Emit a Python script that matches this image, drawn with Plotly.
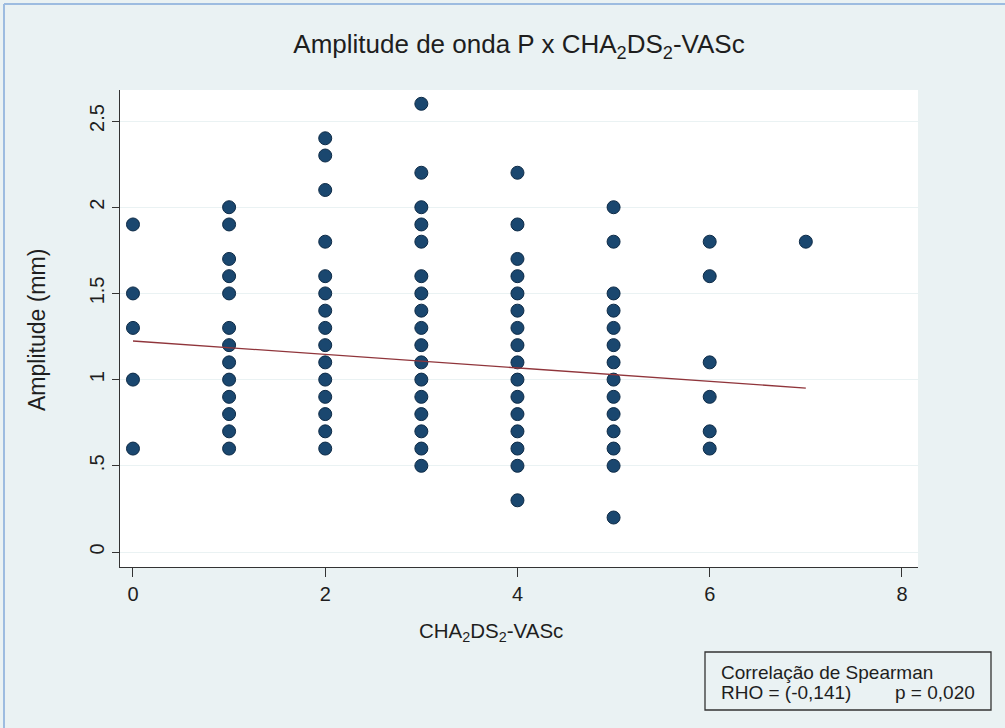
import plotly.graph_objects as go

# ---- data ----
score_0 = [1.9, 1.5, 1.3, 1.0, 0.6]
score_1 = [2.0, 1.9, 1.7, 1.6, 1.5, 1.3, 1.2, 1.1, 1.0, 0.9, 0.8, 0.7, 0.6]
score_2 = [2.4, 2.3, 2.1, 1.8, 1.6, 1.5, 1.4, 1.3, 1.2, 1.1, 1.0, 0.9, 0.8, 0.7, 0.6]
score_3 = [2.6, 2.2, 2.0, 1.9, 1.8, 1.6, 1.5, 1.4, 1.3, 1.2, 1.1, 1.0, 0.9, 0.8, 0.7, 0.6, 0.5]
score_4 = [2.2, 1.9, 1.7, 1.6, 1.5, 1.4, 1.3, 1.2, 1.1, 1.0, 0.9, 0.8, 0.7, 0.6, 0.5, 0.3]
score_5 = [2.0, 1.8, 1.5, 1.4, 1.3, 1.2, 1.1, 1.0, 0.9, 0.8, 0.7, 0.6, 0.5, 0.2]
score_6 = [1.8, 1.6, 1.1, 0.9, 0.7, 0.6]
score_7 = [1.8]
columns = [score_0, score_1, score_2, score_3, score_4, score_5, score_6, score_7]

fit_x = [0, 7]
fit_y = [1.224, 0.951]

x_ticks = [0, 2, 4, 6, 8]
y_ticks = [0, 0.5, 1, 1.5, 2, 2.5]
y_tick_labels = ["0", ".5", "1", "1.5", "2", "2.5"]

xs, ys = [], []
for score, vals in enumerate(columns):
    for v in vals:
        xs.append(score)
        ys.append(v)

W, H = 1005, 728
L, R, T, B = 120, 918, 90, 567
PW, PH = R - L, B - T

def px(x):
    return (x - L) / PW

def py(y):
    return (B - y) / PH

FONT = "Liberation Sans, Arial, sans-serif"
BG = "#EAF2F3"
TXT = "#1E1E1E"

fig = go.Figure()
fig.add_trace(go.Scatter(
    x=xs, y=ys, mode="markers",
    marker=dict(size=13, color="#1A476F", line=dict(color="#0E2B47", width=1)),
    showlegend=False, hoverinfo="x+y"))
fig.add_trace(go.Scatter(
    x=fit_x, y=fit_y, mode="lines",
    line=dict(color="#90353B", width=1.3),
    showlegend=False))

fig.update_layout(
    width=W, height=H,
    margin=dict(l=L, r=W - R, t=T, b=H - B),
    paper_bgcolor=BG, plot_bgcolor="white",
    font=dict(family=FONT, color=TXT),
    title=dict(text="Amplitude de onda P x CHA<sub>2</sub>DS<sub>2</sub>-VASc",
               x=0.5, xref="paper", xanchor="center",
               y=1 - 44 / H, yref="container", yanchor="middle",
               font=dict(size=26, family=FONT, color=TXT)),
)
fig.update_xaxes(
    range=[-0.135, 8.167], tickvals=x_ticks, showgrid=False, zeroline=False,
    showline=True, linecolor="#333333", linewidth=1.3,
    ticks="outside", ticklen=9, tickcolor="#333333", tickwidth=1.3,
    tickfont=dict(size=20, family=FONT, color=TXT),
)
fig.update_yaxes(
    range=[-0.087, 2.68], tickvals=y_ticks, ticktext=y_tick_labels,
    tickangle=-90, showgrid=True, gridcolor=BG, gridwidth=1, zeroline=False,
    showline=True, linecolor="#333333", linewidth=1.3,
    ticks="outside", ticklen=7, tickcolor="#333333", tickwidth=1.3,
    tickfont=dict(size=20, family=FONT, color=TXT),
)

ann = []
ann.append(dict(text="CHA<sub>2</sub>DS<sub>2</sub>-VASc", x=px(491), y=py(632),
                xref="paper", yref="paper", showarrow=False,
                xanchor="center", yanchor="middle",
                font=dict(size=20.5, family=FONT, color=TXT)))
ann.append(dict(text="Amplitude (mm)", x=px(37), y=py(330),
                xref="paper", yref="paper", showarrow=False, textangle=-90,
                xanchor="center", yanchor="middle",
                font=dict(size=23, family=FONT, color=TXT)))
ann.append(dict(text="Correlação de Spearman", x=px(719), y=py(672),
                xref="paper", yref="paper", showarrow=False,
                xanchor="left", yanchor="middle",
                font=dict(size=19, family=FONT, color=TXT)))
ann.append(dict(text="RHO = (-0,141)", x=px(719), y=py(692),
                xref="paper", yref="paper", showarrow=False,
                xanchor="left", yanchor="middle",
                font=dict(size=19, family=FONT, color=TXT)))
ann.append(dict(text="p = 0,020", x=px(893), y=py(692),
                xref="paper", yref="paper", showarrow=False,
                xanchor="left", yanchor="middle",
                font=dict(size=19, family=FONT, color=TXT)))
fig.update_layout(annotations=ann)

shapes = []
shapes.append(dict(type="rect", xref="paper", yref="paper",
                   x0=px(705), x1=px(991), y0=py(710), y1=py(652),
                   line=dict(color="#333333", width=1.3), fillcolor="rgba(0,0,0,0)"))
shapes.append(dict(type="line", xref="paper", yref="paper",
                   x0=px(4), x1=px(1010), y0=py(4), y1=py(4),
                   line=dict(color="#9DBCE0", width=2)))
shapes.append(dict(type="line", xref="paper", yref="paper",
                   x0=px(4), x1=px(4), y0=py(4), y1=py(740),
                   line=dict(color="#9DBCE0", width=2)))
fig.update_layout(shapes=shapes)

fig.write_html("out.html")
